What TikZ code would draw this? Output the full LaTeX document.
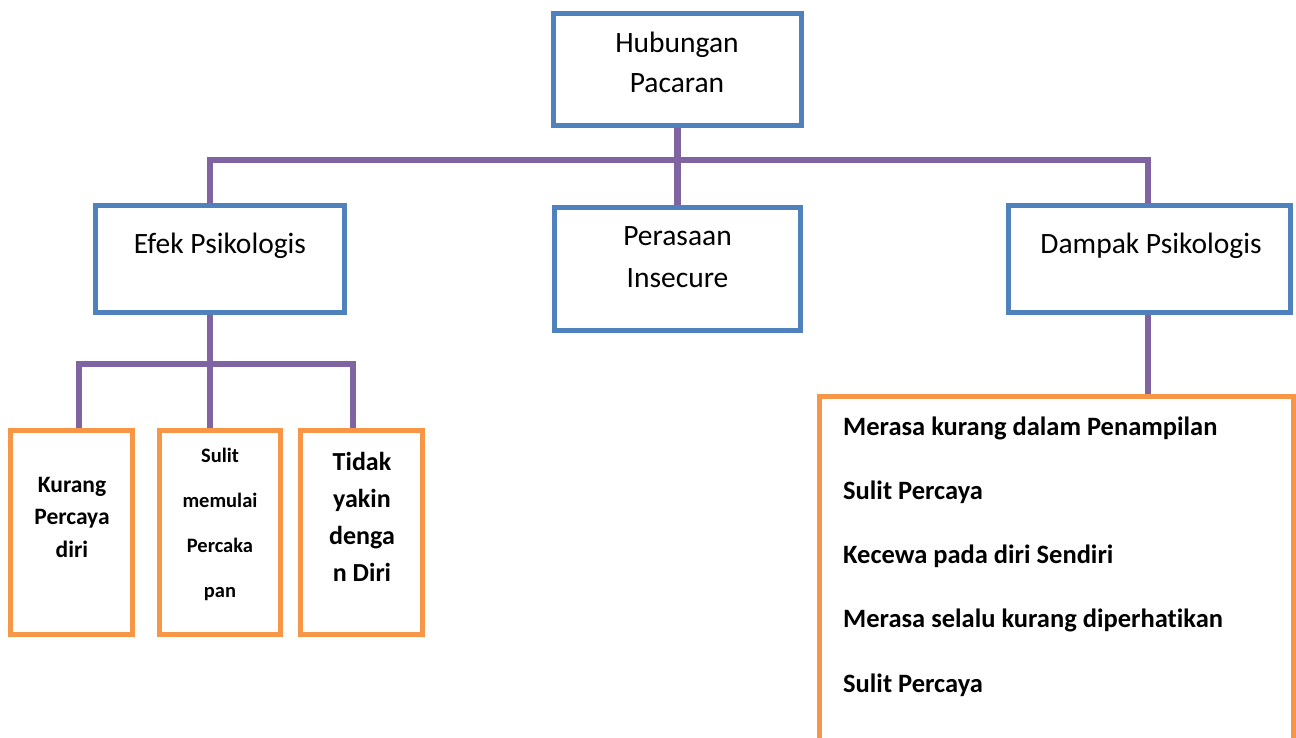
\documentclass[tikz,border=0pt]{standalone}
\usepackage{fontspec}
\setmainfont[Ligatures=NoCommon]{Carlito}
\definecolor{boxblue}{HTML}{4F81BD}
\definecolor{linkpurple}{HTML}{8064A2}
\definecolor{leaforange}{HTML}{F79646}
\tikzset{
  headbox/.style={draw=boxblue,line width=5pt,fill=white,inner sep=0pt},
  leafbox/.style={draw=leaforange,line width=5pt,fill=white,inner sep=0pt},
  link/.style={draw=linkpurple,line width=6.5pt},
  lbl/.style={anchor=base,align=center,inner sep=0pt},
}
\begin{document}
\begin{tikzpicture}[x=1pt,y=-1pt]
\useasboundingbox (0,0) rectangle (1296,737);

% boxes
\node[headbox,minimum width=248,minimum height=112] (root) at (677.5,69.5) {};
\node[headbox,minimum width=249,minimum height=107] (efek) at (220,259) {};
\node[headbox,minimum width=246,minimum height=123] (rasa) at (677.5,269) {};
\node[headbox,minimum width=282,minimum height=107] (dampak) at (1149.5,259) {};

\node[leafbox,minimum width=122,minimum height=204] (kurang) at (71.5,532.5) {};
\node[leafbox,minimum width=121,minimum height=204] (sulit) at (220,532.5) {};
\node[leafbox,minimum width=122,minimum height=204] (tidak) at (361.5,532.5) {};
\node[leafbox,anchor=north west,minimum width=474,minimum height=500] (daftar) at (817,394) {};

% connectors
\coordinate (bar) at (677.5,160);
\draw[link] (root.south) -- (rasa.north);
\draw[link] ([xshift=-10]efek.north) |- (bar) -| ([xshift=-1.5]dampak.north);

\coordinate (kj) at (79,364);
\coordinate (sj) at (210,364);
\coordinate (tj) at (353,364);
\draw[link] (kj |- kurang.north) -- (kj) -- (tj) -- (tj |- tidak.north);
\draw[link] ([xshift=-10]efek.south) -- (sj |- sulit.north);
\draw[link] ([xshift=-1.5]dampak.south) -- ([xshift=-1.5]dampak.south |- daftar.north);

% texts (multi-line nodes sit on their last baseline)
\node[lbl,font=\fontsize{29.5}{40}\selectfont] (roottxt) at (677,92) {Hubungan\\Pacaran};
\node[lbl,font=\fontsize{29.5}{40}\selectfont] (efektxt) at (220,253) {Efek Psikologis};
\node[lbl,font=\fontsize{29.5}{42}\selectfont] (rasatxt) at (677.5,287) {Perasaan\\Insecure};
\node[lbl,font=\fontsize{29.5}{40}\selectfont] (dampaktxt) at (1151,253) {Dampak Psikologis};

\node[lbl,font=\bfseries\fontsize{23.5}{32.5}\selectfont] (kurangtxt) at (72,557) {Kurang\\Percaya\\diri};
\node[lbl,font=\bfseries\fontsize{20.5}{45}\selectfont] (sulittxt) at (220,597) {Sulit\\memulai\\Percaka\\pan};
\node[lbl,font=\bfseries\fontsize{26}{37}\selectfont] (tidaktxt) at (362,581) {Tidak\\yakin\\denga\\n Diri};

\foreach \row/\txt in {0/Merasa kurang dalam Penampilan,1/Sulit Percaya,2/Kecewa pada diri Sendiri,3/Merasa selalu kurang diperhatikan,4/Sulit Percaya}
{
    \node[lbl,anchor=base west,font=\bfseries\fontsize{26.5}{30}\selectfont] (item\row) at (843,{435+64.25*\row}) {\txt};
}

\end{tikzpicture}
\end{document}
